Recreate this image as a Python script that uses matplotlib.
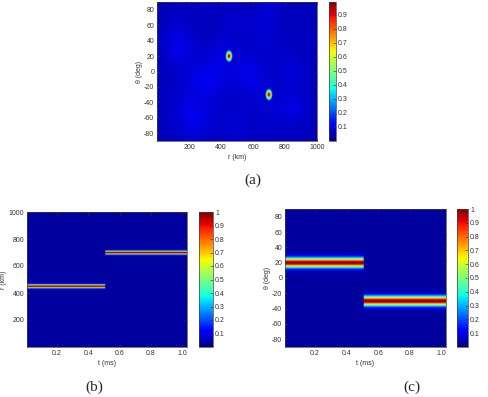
import numpy as np
import matplotlib
matplotlib.use("Agg")
import matplotlib.pyplot as plt

plt.rcParams['font.family'] = ['Liberation Sans', 'DejaVu Sans']
plt.rcParams['axes.unicode_minus'] = False

# ---- data ----
# (a) target positions in range / angle
target_r = [450, 700]          # km
target_theta = [20, -30]       # deg
target_amp = [0.99, 0.99]
spot_width_r = 12              # km
spot_width_theta = 4.2         # deg

# (a) weak background clutter, rows theta 90 -> -90, columns r 0 -> 1000
clutter = [
    [0.05, 0.06, 0.05, 0.07, 0.05, 0.06, 0.05, 0.08, 0.06, 0.05, 0.05],
    [0.05, 0.07, 0.06, 0.05, 0.06, 0.08, 0.06, 0.09, 0.05, 0.06, 0.05],
    [0.06, 0.10, 0.06, 0.06, 0.07, 0.06, 0.06, 0.08, 0.06, 0.05, 0.06],
    [0.05, 0.12, 0.07, 0.06, 0.09, 0.07, 0.06, 0.07, 0.07, 0.06, 0.05],
    [0.06, 0.07, 0.07, 0.08, 0.10, 0.07, 0.10, 0.06, 0.07, 0.08, 0.06],
    [0.05, 0.06, 0.09, 0.12, 0.08, 0.08, 0.11, 0.06, 0.07, 0.08, 0.05],
    [0.06, 0.07, 0.08, 0.09, 0.07, 0.06, 0.07, 0.09, 0.06, 0.07, 0.06],
    [0.05, 0.08, 0.10, 0.07, 0.06, 0.07, 0.06, 0.07, 0.08, 0.11, 0.05],
    [0.06, 0.07, 0.11, 0.08, 0.07, 0.08, 0.06, 0.07, 0.07, 0.07, 0.06],
    [0.05, 0.06, 0.08, 0.06, 0.06, 0.07, 0.06, 0.06, 0.06, 0.06, 0.05],
]

# (b), (c) tracks over time
t_switch = 0.51                # ms
track_r = [450, 700]           # km before / after switch
track_theta = [20, -30]        # deg before / after switch
band_r = 9                     # km
band_theta = 4.3               # deg
t_range = [0.01, 1.03]

# ---- grids ----
r = np.linspace(0, 1000, 501)
th = np.linspace(-90, 90, 361)
t = np.linspace(t_range[0], t_range[1], 409)

R, TH = np.meshgrid(r, th)
spots = np.zeros_like(R)
for rk, tk, ak in zip(target_r, target_theta, target_amp):
    spots = np.maximum(spots, ak * np.exp(-0.5 * (((R - rk) / spot_width_r) ** 2
                                                  + ((TH - tk) / spot_width_theta) ** 2)))
spots = np.ma.masked_less(spots, 0.09)

T, RR = np.meshgrid(t, r)
r_now = np.where(T < t_switch, track_r[0], track_r[1])
map_r = 0.03 + 0.97 * np.exp(-0.5 * ((RR - r_now) / band_r) ** 2)

T2, TT = np.meshgrid(t, th)
th_now = np.where(T2 < t_switch, track_theta[0], track_theta[1])
map_th = 0.03 + 0.97 * np.exp(-0.5 * ((TT - th_now) / band_theta) ** 2)

# ---- figure ----
fig = plt.figure(figsize=(4.88, 3.97), dpi=100)
W, H = 488.0, 397.0


def box(x0, y0, x1, y1):
    return [x0 / W, 1 - y1 / H, (x1 - x0) / W, (y1 - y0) / H]


def style(ax):
    ax.tick_params(labelsize=5, length=2, width=0.4, direction='in',
                   colors='0.2', pad=2, top=True, right=True)
    for s in ax.spines.values():
        s.set_linewidth(0.5)
        s.set_color('0.25')


def style_cb(cb):
    cb.ax.tick_params(labelsize=5, length=2, width=0.4, direction='in',
                      colors='0.2', pad=1.5)
    cb.outline.set_linewidth(0.5)
    cb.outline.set_edgecolor('0.25')


cmap = plt.get_cmap('jet')

# (a)
ax1 = fig.add_axes(box(157, 2, 317, 141))
ax1.imshow(clutter, cmap=cmap, vmin=0, vmax=0.99, extent=[0, 1000, -90, 90],
           aspect='auto', interpolation='bicubic')
im1 = ax1.imshow(spots, cmap=cmap, vmin=0, vmax=0.99, origin='lower',
                 extent=[0, 1000, -90, 90], aspect='auto', interpolation='bilinear')
ax1.set_xlim(0, 1000)
ax1.set_ylim(-90, 90)
ax1.set_xticks([200, 400, 600, 800, 1000])
ax1.set_yticks(np.arange(-80, 81, 20))
ax1.set_xlabel('r (km)', fontsize=5, color='0.2', labelpad=2)
ax1.set_ylabel('θ (deg)', fontsize=5, color='0.2', labelpad=1)
style(ax1)
cax1 = fig.add_axes(box(329, 2, 336, 141))
cb1 = fig.colorbar(im1, cax=cax1, ticks=np.arange(0.1, 0.95, 0.1))
cb1.ax.set_yticklabels(['0.1', '0.2', '0.3', '0.4', '0.5', '0.6', '0.7', '0.8', '0.9'])
style_cb(cb1)

# (b)
ax2 = fig.add_axes(box(27, 212, 187, 347))
im2 = ax2.imshow(map_r, cmap=cmap, vmin=0, vmax=1, origin='lower',
                 extent=[t_range[0], t_range[1], 0, 1000], aspect='auto',
                 interpolation='bilinear')
ax2.set_xlim(t_range)
ax2.set_ylim(0, 1000)
ax2.set_xticks([0.2, 0.4, 0.6, 0.8, 1.0])
ax2.set_xticklabels(['0.2', '0.4', '0.6', '0.8', '1.0'])
ax2.set_yticks([200, 400, 600, 800, 1000])
ax2.set_xlabel('t (ms)', fontsize=5, color='0.2', labelpad=2)
ax2.set_ylabel('r (km)', fontsize=5, color='0.2', labelpad=1)
style(ax2)
cax2 = fig.add_axes(box(199, 212, 213, 347))
cb2 = fig.colorbar(im2, cax=cax2, ticks=np.arange(0.1, 1.01, 0.1))
cb2.ax.set_yticklabels(['0.1', '0.2', '0.3', '0.4', '0.5', '0.6', '0.7', '0.8', '0.9', '1'])
style_cb(cb2)

# (c)
ax3 = fig.add_axes(box(285, 209, 446, 347))
im3 = ax3.imshow(map_th, cmap=cmap, vmin=0, vmax=1, origin='lower',
                 extent=[t_range[0], t_range[1], -90, 90], aspect='auto',
                 interpolation='bilinear')
ax3.set_xlim(t_range)
ax3.set_ylim(-90, 90)
ax3.set_xticks([0.2, 0.4, 0.6, 0.8, 1.0])
ax3.set_xticklabels(['0.2', '0.4', '0.6', '0.8', '1.0'])
ax3.set_yticks(np.arange(-80, 81, 20))
ax3.set_xlabel('t (ms)', fontsize=5, color='0.2', labelpad=2)
ax3.set_ylabel('θ (deg)', fontsize=5, color='0.2', labelpad=1)
style(ax3)
cax3 = fig.add_axes(box(457, 209, 468, 347))
cb3 = fig.colorbar(im3, cax=cax3, ticks=np.arange(0.1, 1.01, 0.1))
cb3.ax.set_yticklabels(['0.1', '0.2', '0.3', '0.4', '0.5', '0.6', '0.7', '0.8', '0.9', '1'])
style_cb(cb3)

# panel captions
for label, x, y in [('(a)', 253, 180), ('(b)', 94, 387), ('(c)', 412, 387)]:
    fig.text(x / W, 1 - y / H, label, ha='center', va='center', fontsize=11,
             family=['Liberation Serif', 'DejaVu Serif'], color='0.15')

fig.savefig('out.png', dpi=100)
